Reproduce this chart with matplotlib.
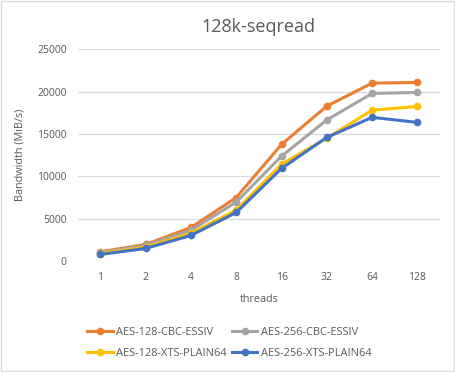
# 128k sequential read bandwidth per cipher, Excel-like line chart
import matplotlib
matplotlib.use('Agg')
import matplotlib.pyplot as plt

threads = ['1', '2', '4', '8', '16', '32', '64', '128']
aes128_cbc = [1100, 1970, 3970, 7500, 13760, 18280, 20990, 21070]
aes256_cbc = [1000, 1850, 3650, 6960, 12380, 16650, 19770, 19890]
aes128_xts = [900, 1650, 3300, 6010, 11440, 14500, 17800, 18240]
aes256_xts = [790, 1500, 3030, 5740, 10930, 14590, 16950, 16360]
series_names = ['AES-128-CBC-ESSIV', 'AES-256-CBC-ESSIV',
                'AES-128-XTS-PLAIN64', 'AES-256-XTS-PLAIN64']
yticks = [0, 5000, 10000, 15000, 20000, 25000]

colors = ['#ED7D31', '#A5A5A5', '#FFC000', '#4472C4']
text_color = '#595959'

plt.rcParams['font.family'] = ['Open Sans', 'DejaVu Sans']

fig = plt.figure(figsize=(4.55, 3.72), dpi=100)
ax = fig.add_axes([0.171, 0.298, 0.796, 0.57])

x = range(len(threads))
lines = []
for values, name, color in zip([aes128_cbc, aes256_cbc, aes128_xts, aes256_xts],
                               series_names, colors):
    line, = ax.plot(x, values, color=color, lw=2.2, marker='o', markersize=4.5,
                    label=name, zorder=3)
    lines.append(line)

ax.set_xlim(-0.5, len(threads) - 0.5)
ax.set_ylim(0, 25000)
ax.set_yticks(yticks)
ax.set_xticks(list(x))
ax.set_xticklabels(threads)
ax.grid(axis='y', color='#D9D9D9', lw=0.9)
ax.set_axisbelow(True)
for side in ['top', 'right', 'left', 'bottom']:
    ax.spines[side].set_visible(False)
ax.tick_params(length=0, colors=text_color, labelsize=7.5, pad=8)

ax.set_title('128k-seqread', color=text_color, fontsize=13, pad=12)
ax.set_xlabel('threads', color=text_color, fontsize=7.8, labelpad=8)
ax.set_ylabel('Bandwidth (MiB/s)', color=text_color, fontsize=7.8, labelpad=8)

# legend filled row by row like Excel: reorder for column-major layout
order = [0, 2, 1, 3]
fig.legend([lines[i] for i in order], [series_names[i] for i in order],
           loc='center', bbox_to_anchor=(0.504, 0.078), ncol=2, frameon=False,
           fontsize=7.9, labelcolor=text_color, handlelength=2.3,
           columnspacing=0.5, handletextpad=0.3, labelspacing=0.9)

# light border around the chart area
fig.patches.append(plt.Rectangle((0.002, 0.003), 0.996, 0.994, transform=fig.transFigure,
                                 fill=False, edgecolor='#D9D9D9', lw=1))

fig.savefig('out.png', dpi=100)
